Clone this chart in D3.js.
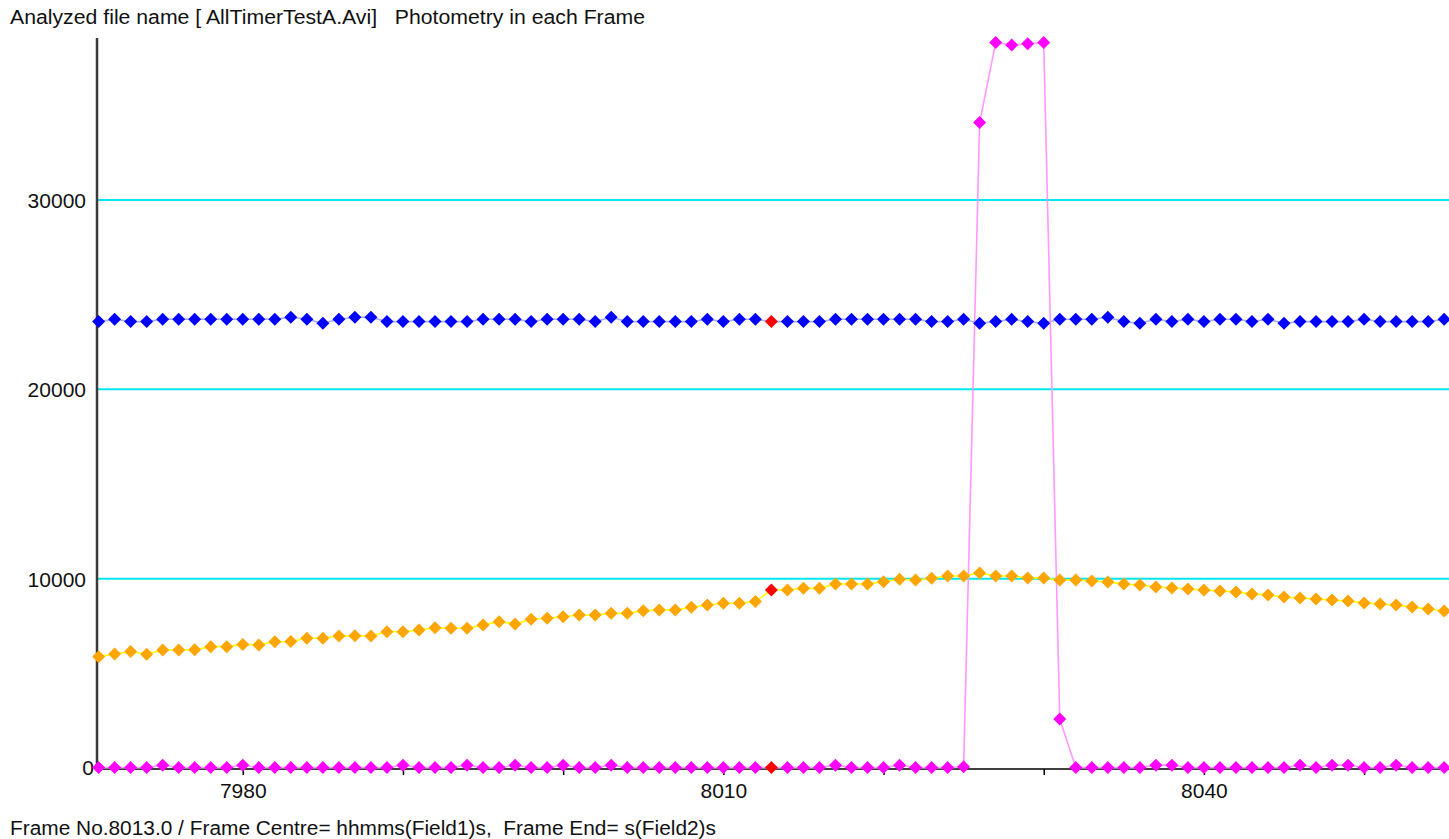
<!DOCTYPE html>
<html><head><meta charset="utf-8">
<script src="https://cdn.jsdelivr.net/npm/d3@7"></script>
<style>
html,body{margin:0;padding:0;background:#fff;overflow:hidden;}
svg{display:block;}
text{font-family:"Liberation Sans",Arial,sans-serif;fill:#111;white-space:pre;}
</style></head>
<body>
<svg id="chart" width="1449" height="839"></svg>
<script>
const titleText = "Analyzed file name [ AllTimerTestA.Avi]   Photometry in each Frame";
const footerText = "Frame No.8013.0 / Frame Centre= hhmms(Field1)s,  Frame End= s(Field2)s";
const firstFrame = 7971;
const lastFrame = 8055;
const currentFrame = 8013;
const yTicks = [0, 10000, 20000, 30000];
const gridValues = [10000, 20000, 30000];
const xTickMarks = [7970, 7980, 7990, 8000, 8010, 8020, 8030, 8040, 8050];
const xTickLabels = [7980, 8010, 8040];

const frames = d3.range(firstFrame, lastFrame + 1);

const blueValues = [
 23580,23700,23580,23580,23700,23700,23700,23700,23700,23700,
 23700,23700,23810,23700,23490,23700,23810,23810,23580,23580,
 23580,23580,23580,23580,23700,23700,23700,23580,23700,23700,
 23700,23580,23810,23580,23580,23580,23580,23580,23700,23580,
 23700,23700,23580,23580,23580,23580,23700,23700,23700,23700,
 23700,23700,23580,23580,23700,23490,23580,23700,23580,23490,
 23700,23700,23700,23810,23580,23490,23700,23580,23700,23580,
 23700,23700,23580,23700,23490,23580,23580,23580,23580,23700,
 23580,23580,23580,23580,23700
];
const orangeValues = [
 5880,6020,6150,6010,6230,6230,6240,6410,6410,6530,
 6500,6670,6680,6850,6850,6970,6980,6970,7200,7200,
 7290,7410,7380,7380,7550,7730,7610,7860,7910,7990,
 8080,8080,8170,8170,8310,8350,8350,8490,8610,8700,
 8700,8790,9400,9400,9490,9490,9720,9720,9720,9840,
 9970,9930,10020,10140,10140,10300,10140,10140,10040,10040,
 9930,9930,9880,9830,9720,9670,9560,9510,9460,9400,
 9350,9300,9190,9140,9030,8980,8930,8870,8820,8720,
 8660,8610,8500,8400,8290
];
const magentaValues = [
 20,20,20,20,150,20,20,20,20,150,
 20,20,20,20,20,20,20,20,20,150,
 20,20,20,150,20,20,150,20,20,150,
 20,20,150,20,20,20,20,20,20,20,
 20,20,20,20,20,20,150,20,20,20,
 150,20,20,20,60,34090,38320,38190,38250,38320,
 2590,20,20,20,20,20,150,150,20,20,
 20,20,20,20,20,150,20,150,150,20,
 20,150,20,20,20
];

const series = [
  {values: blueValues, fill: "#0000ff", line: "#a9a9ff"},
  {values: orangeValues, fill: "#ffa500", line: "#ffff00"},
  {values: magentaValues, fill: "#ff00ff", line: "#ff99ff"}
];

const svg = d3.select("#chart");
const x = d3.scaleLinear().domain([7970.9, 8055.3]).range([97, 1449]);
const y = d3.scaleLinear().domain([0, 38560]).range([768, 38]);

// grid
svg.append("g").selectAll("line").data(gridValues).join("line")
  .attr("x1", 97).attr("x2", 1449)
  .attr("y1", d => y(d)).attr("y2", d => y(d))
  .attr("stroke", "#00e8ee").attr("stroke-width", 2);

// x axis line + ticks
const xAxis = d3.axisBottom(x).tickValues(xTickMarks).tickSize(6)
  .tickFormat(d => xTickLabels.includes(d) ? d : "");
const gx = svg.append("g").attr("transform", "translate(0,769)").call(xAxis);
gx.select(".domain").attr("d", "M97,0H1449").attr("stroke", "#000").attr("stroke-width", 1.5);
gx.selectAll(".tick line").attr("stroke", "#000").attr("stroke-width", 1.5);
gx.selectAll(".tick text").attr("font-size", 21).attr("font-family", "Liberation Sans, Arial, sans-serif")
  .attr("fill", "#111").attr("dy", "0").attr("y", 29);
gx.selectAll(".tick").filter(d => d < 7971).remove();

// y axis
const yAxis = d3.axisLeft(y).tickValues(yTicks).tickSize(0).tickPadding(11).tickFormat(d3.format("d"));
const gy = svg.append("g").attr("transform", "translate(97,0)").call(yAxis);
gy.select(".domain").remove();
gy.selectAll(".tick text").attr("font-size", 21).attr("font-family", "Liberation Sans, Arial, sans-serif")
  .attr("fill", "#111").attr("dy", "0.36em");
gy.selectAll(".tick").filter(d => d === 0).select("text").attr("x", -3).attr("dy", "0.3em");
svg.append("line").attr("x1", 97).attr("x2", 97).attr("y1", 38).attr("y2", 769)
  .attr("stroke", "#3a3a3a").attr("stroke-width", 2.5);

// series lines
const line = d3.line().x((d, i) => x(frames[i])).y(d => y(d));
series.forEach(s => {
  svg.append("path").datum(s.values).attr("d", line)
    .attr("fill", "none").attr("stroke", s.line).attr("stroke-width", 1.6);
});

// markers
const diamond = "M0,-6.5L6.5,0L0,6.5L-6.5,0Z";
series.forEach(s => {
  svg.append("g").selectAll("path").data(s.values).join("path")
    .attr("d", diamond)
    .attr("transform", (d, i) => `translate(${x(frames[i])},${y(d)})`)
    .attr("fill", (d, i) => frames[i] === currentFrame ? "#ff0000" : s.fill);
});

// texts
svg.append("text").attr("x", 10).attr("y", 24).attr("font-size", 20)
  .attr("textLength", 635).attr("lengthAdjust", "spacingAndGlyphs").text(titleText);
svg.append("text").attr("x", 10).attr("y", 835).attr("font-size", 20)
  .attr("textLength", 706).attr("lengthAdjust", "spacingAndGlyphs").text(footerText);
</script>
</body></html>
